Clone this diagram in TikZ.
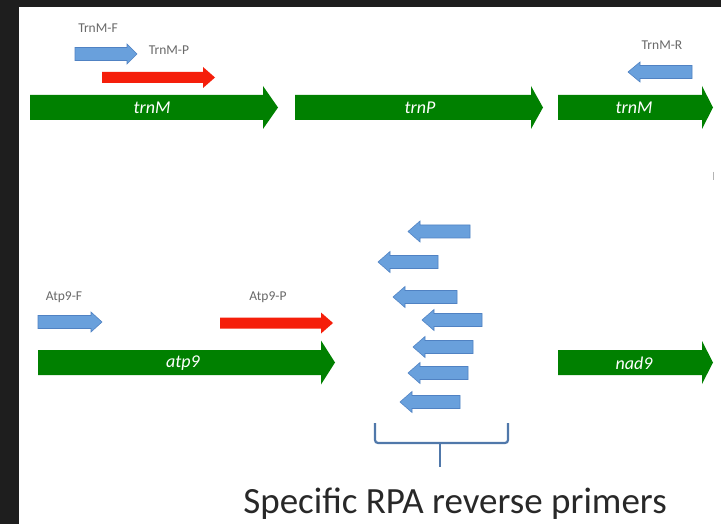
\documentclass[tikz,border=0pt]{standalone}
\usepackage{fontspec}
\setmainfont{Carlito}
\definecolor{darkbg}{RGB}{30,30,30}
\definecolor{genegreen}{RGB}{0,128,0}
\definecolor{primred}{RGB}{245,30,10}
\definecolor{primblue}{RGB}{105,160,220}
\definecolor{primblueedge}{RGB}{80,130,195}
\definecolor{bracketblue}{RGB}{80,120,170}
\definecolor{labgray}{RGB}{105,105,105}
\definecolor{captiongray}{RGB}{40,40,40}
% #1 style, #2 tail x, #3 tip x, #4 centre y, #5 shaft half, #6 head half, #7 head base x
\newcommand\blockarr[7]{\path[#1] (#2,{#4-#5}) -- (#7,{#4-#5}) -- (#7,{#4-#6}) -- (#3,#4) -- (#7,{#4+#6}) -- (#7,{#4+#5}) -- (#2,{#4+#5}) -- cycle;}
\tikzset{
  gene/.style={fill=genegreen},
  fwdprimer/.style={fill=primred},
  blueprimer/.style={fill=primblue, draw=primblueedge, line width=0.6pt},
  genelabel/.style={text=white, font=\fontsize{18}{18}\selectfont\itshape, inner sep=0pt},
  primlabel/.style={text=labgray, font=\fontsize{13.5}{13.5}\selectfont, inner sep=0pt},
  bracketline/.style={draw=bracketblue, line width=2.2pt, rounded corners=3pt},
}
\begin{document}
\begin{tikzpicture}[x=1pt,y=-1pt]
\useasboundingbox (0,0) rectangle (721,524);
\fill[white] (0,0) rectangle (721,524);
\fill[darkbg] (0,0) rectangle (721,7);
\fill[darkbg] (0,0) rectangle (19,524);

% top row genes
\blockarr{gene}{30}{278}{107.5}{12.5}{21.5}{263}
\blockarr{gene}{295}{543}{107.5}{12.5}{21.5}{531}
\blockarr{gene}{558}{713}{107.5}{12.5}{21.5}{702}
\node[genelabel] (trnMa) at (152,108) {trnM};
\node[genelabel] (trnP) at (420,108) {trnP};
\node[genelabel] (trnMb) at (634,108) {trnM};

% top primers
\blockarr{blueprimer}{75}{137}{54}{6.5}{10}{127}
\blockarr{fwdprimer}{102}{215}{77.5}{5.5}{10.5}{203}
\blockarr{blueprimer}{692}{628}{72}{6.5}{10}{640}
\node[primlabel] (lTrnMF) at (98,28) {TrnM-F};
\node[primlabel] (lTrnMP) at (169,50) {TrnM-P};
\node[primlabel] (lTrnMR) at (662,45) {TrnM-R};

% stray mark
\draw[labgray!50, line width=0.8pt] (713,172) -- (713,180);

% bottom row genes
\blockarr{gene}{38}{335}{362.5}{12.5}{22}{321}
\blockarr{gene}{558}{713}{362.5}{12.5}{21.5}{702}
\node[genelabel] (atp9) at (183,363) {atp9};
\node[genelabel] (nad9) at (634,363) {nad9};

% bottom primers
\blockarr{blueprimer}{38}{102}{322}{6.5}{10}{91}
\blockarr{fwdprimer}{220}{333}{323}{5.5}{10.5}{321}
\node[primlabel] (lAtpF) at (64,297) {Atp9-F};
\node[primlabel] (lAtpP) at (268,297) {Atp9-P};

% reverse primers
\blockarr{blueprimer}{470}{408}{231.5}{6.5}{10.5}{420}
\blockarr{blueprimer}{438}{378}{262}{6.5}{10.5}{390}
\blockarr{blueprimer}{457}{393}{297}{6.5}{10.5}{405}
\blockarr{blueprimer}{482}{422}{320}{6.5}{10.5}{434}
\blockarr{blueprimer}{473}{413}{347}{6.5}{10.5}{425}
\blockarr{blueprimer}{468}{408}{373}{6.5}{10.5}{420}
\blockarr{blueprimer}{460}{400}{402}{6.5}{10.5}{412}

% bracket
\draw[bracketline] (375,423) -- (375,443) -- (508,443) -- (508,423);
\coordinate (brmid) at (440,443);
\coordinate (brtip) at (440,467);
\draw[draw=bracketblue, line width=2.2pt] (brmid) -- (brtip);

\node[anchor=base, text=captiongray, font=\fontsize{37}{37}\selectfont, inner sep=0pt] (caption) at (455,513) {Specific RPA reverse primers};
\end{tikzpicture}
\end{document}
